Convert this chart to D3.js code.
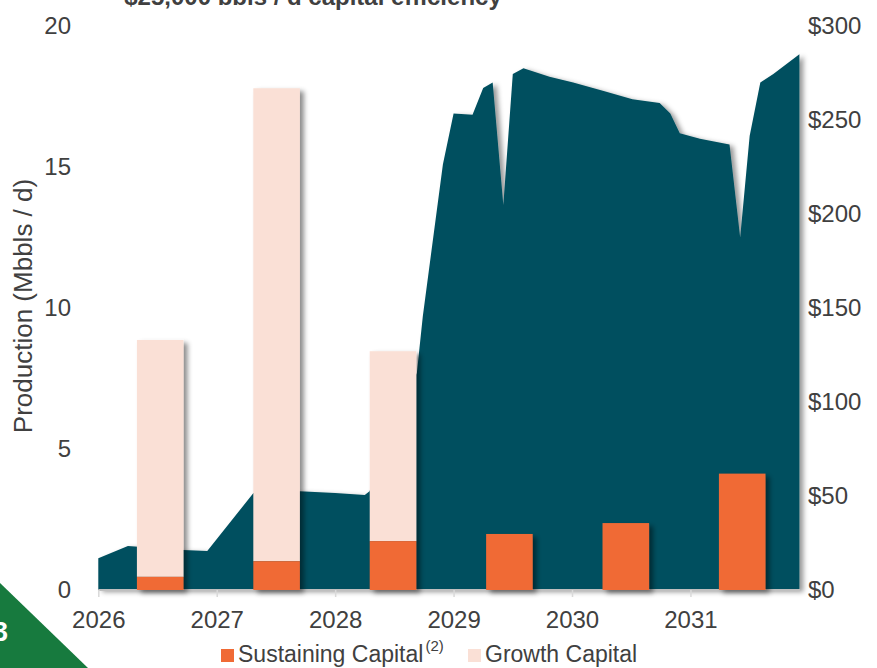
<!DOCTYPE html>
<html>
<head>
<meta charset="utf-8">
<script src="https://cdn.jsdelivr.net/npm/d3@7"></script>
<style>
  html, body { margin: 0; padding: 0; background: #ffffff; }
  svg { display: block; font-family: "Liberation Sans", Arial, sans-serif; }
</style>
</head>
<body>
<svg id="chart" width="877" height="668"></svg>
<script>
// ---- Data ----
const prodTime = [2026.00, 2026.25, 2026.715, 2026.92, 2027.31, 2027.70, 2028.00, 2028.25, 2028.29,
  2028.69, 2028.74, 2028.91, 2029.00, 2029.16, 2029.25, 2029.33, 2029.42, 2029.50, 2029.59,
  2029.81, 2030.01, 2030.26, 2030.51, 2030.74, 2030.83, 2030.91, 2031.08, 2031.33, 2031.42,
  2031.50, 2031.59, 2031.70, 2031.92];
const production = [1.13, 1.56, 1.42, 1.38, 3.44, 3.50, 3.44, 3.37, 3.50,
  7.7, 9.7, 15.1, 16.9, 16.85, 17.8, 18.0, 13.65, 18.3, 18.5,
  18.2, 18.0, 17.7, 17.4, 17.27, 16.9, 16.2, 16.0, 15.8, 12.5,
  16.1, 18.0, 18.3, 19.0];
const capCategories = ["2026", "2027", "2028", "2029", "2030", "2031"];
const sustainingCapital = [7, 15.3, 26, 29.8, 35.6, 61.9];
const growthCapital = [126, 251.6, 101, 0, 0, 0];
const xTickYears = [2026, 2027, 2028, 2029, 2030, 2031];
const leftTicks = [0, 5, 10, 15, 20];
const rightTicks = [0, 50, 100, 150, 200, 250, 300];
const titleText = "$25,000 bbls / d capital efficiency";
const yLabel = "Production (Mbbls / d)";

// ---- Setup ----
const svg = d3.select("#chart");
const textColor = "#404040";
const teal = "#04505F";
const orange = "#F06A35";
const peach = "#FAE0D6";
const fontFam = "Liberation Sans, Arial, sans-serif";

const plotTop = 26, plotBottom = 590;
const xLeft = 98.3, xRight = 799;

const x = d3.scaleLinear().domain([2026, 2026 + 71 / 12]).range([xLeft, xRight]);
const yL = d3.scaleLinear().domain([0, 20]).range([plotBottom, plotTop]);
const yR = d3.scaleLinear().domain([0, 300]).range([plotBottom, plotTop]);
const xb = d3.scaleBand().domain(capCategories).range([102, 800.4]).paddingInner(0.6).paddingOuter(0.3);

const defs = svg.append("defs");
const f1 = defs.append("filter").attr("id", "shadowArea").attr("x", "-10%").attr("y", "-10%").attr("width", "130%").attr("height", "130%");
f1.append("feDropShadow").attr("dx", 4).attr("dy", 2).attr("stdDeviation", 2.5)
  .attr("flood-color", "#000").attr("flood-opacity", 0.4);
const f2 = defs.append("filter").attr("id", "shadowBar").attr("x", "-20%").attr("y", "-20%").attr("width", "160%").attr("height", "140%");
f2.append("feDropShadow").attr("dx", 4).attr("dy", 3).attr("stdDeviation", 2.5)
  .attr("flood-color", "#000").attr("flood-opacity", 0.45);

// Title (partially cropped at top, as in the reference)
svg.append("text")
  .attr("x", 313).attr("y", 5)
  .attr("text-anchor", "middle")
  .attr("font-size", 24).attr("font-weight", "bold")
  .attr("fill", textColor)
  .text(titleText);

// Area
const prodData = prodTime.map((t, i) => ({ t, v: production[i] }));
const area = d3.area().x(d => x(d.t)).y0(yL(0)).y1(d => yL(d.v));
svg.append("path")
  .datum(prodData)
  .attr("d", area)
  .attr("fill", teal)
  .attr("filter", "url(#shadowArea)");

// X axis
const xAxis = d3.axisBottom(x).tickValues(xTickYears).tickFormat(d3.format("d")).tickSize(7).tickPadding(14);
const gx = svg.append("g").attr("transform", `translate(0,${plotBottom})`).call(xAxis);
gx.select(".domain").attr("stroke", "#BFBFBF").attr("stroke-width", 2).attr("d", `M${xLeft},0H${xRight + 1}`);
gx.selectAll(".tick line").attr("stroke", "#D9D9D9").attr("stroke-width", 1.5);
gx.selectAll(".tick text").attr("fill", textColor).attr("font-size", 24).attr("font-family", fontFam);

// Bars
const barData = capCategories.map((c, i) => ({ c, s: sustainingCapital[i], g: growthCapital[i] }));
const barG = svg.append("g");
barData.forEach(d => {
  const g = barG.append("g").attr("filter", "url(#shadowBar)");
  if (d.g > 0) {
    g.append("rect")
      .attr("x", xb(d.c)).attr("width", xb.bandwidth())
      .attr("y", yR(d.s + d.g)).attr("height", yR(d.s) - yR(d.s + d.g))
      .attr("fill", peach);
  }
  g.append("rect")
    .attr("x", xb(d.c)).attr("width", xb.bandwidth())
    .attr("y", yR(d.s)).attr("height", yR(0) - yR(d.s))
    .attr("fill", orange);
});

// Left axis
const yAxisL = d3.axisLeft(yL).tickValues(leftTicks).tickSize(0).tickPadding(0);
const gl = svg.append("g").attr("transform", "translate(71,0)").call(yAxisL);
gl.select(".domain").remove();
gl.selectAll(".tick text").attr("fill", textColor).attr("font-size", 24).attr("font-family", fontFam);

// Right axis
const yAxisR = d3.axisRight(yR).tickValues(rightTicks).tickSize(0).tickPadding(0).tickFormat(d => "$" + d);
const gr = svg.append("g").attr("transform", "translate(808,0)").call(yAxisR);
gr.select(".domain").remove();
gr.selectAll(".tick text").attr("fill", textColor).attr("font-size", 24).attr("font-family", fontFam);

// Y label
svg.append("text")
  .attr("transform", "translate(32,306) rotate(-90)")
  .attr("text-anchor", "middle")
  .attr("font-size", 26)
  .attr("fill", textColor)
  .text(yLabel);

// Green corner triangle
svg.append("path")
  .attr("d", "M0,583L88,668L0,668Z")
  .attr("fill", "#177A3E");
svg.append("text")
  .attr("x", 8).attr("y", 641)
  .attr("text-anchor", "end")
  .attr("font-size", 27).attr("font-weight", "bold")
  .attr("fill", "#ffffff")
  .text("13");

// Legend
const leg = svg.append("g");
leg.append("rect").attr("x", 221).attr("y", 649).attr("width", 13).attr("height", 13).attr("fill", orange);
const t1 = leg.append("text").attr("x", 238).attr("y", 662).attr("font-size", 23).attr("fill", textColor);
t1.append("tspan").text("Sustaining Capital");
t1.append("tspan").attr("dx", 2).attr("dy", -11).attr("font-size", 15).text("(2)");
leg.append("rect").attr("x", 468).attr("y", 649).attr("width", 13).attr("height", 13).attr("fill", peach);
leg.append("text").attr("x", 485).attr("y", 662).attr("font-size", 23).attr("fill", textColor).text("Growth Capital");
</script>
</body>
</html>
